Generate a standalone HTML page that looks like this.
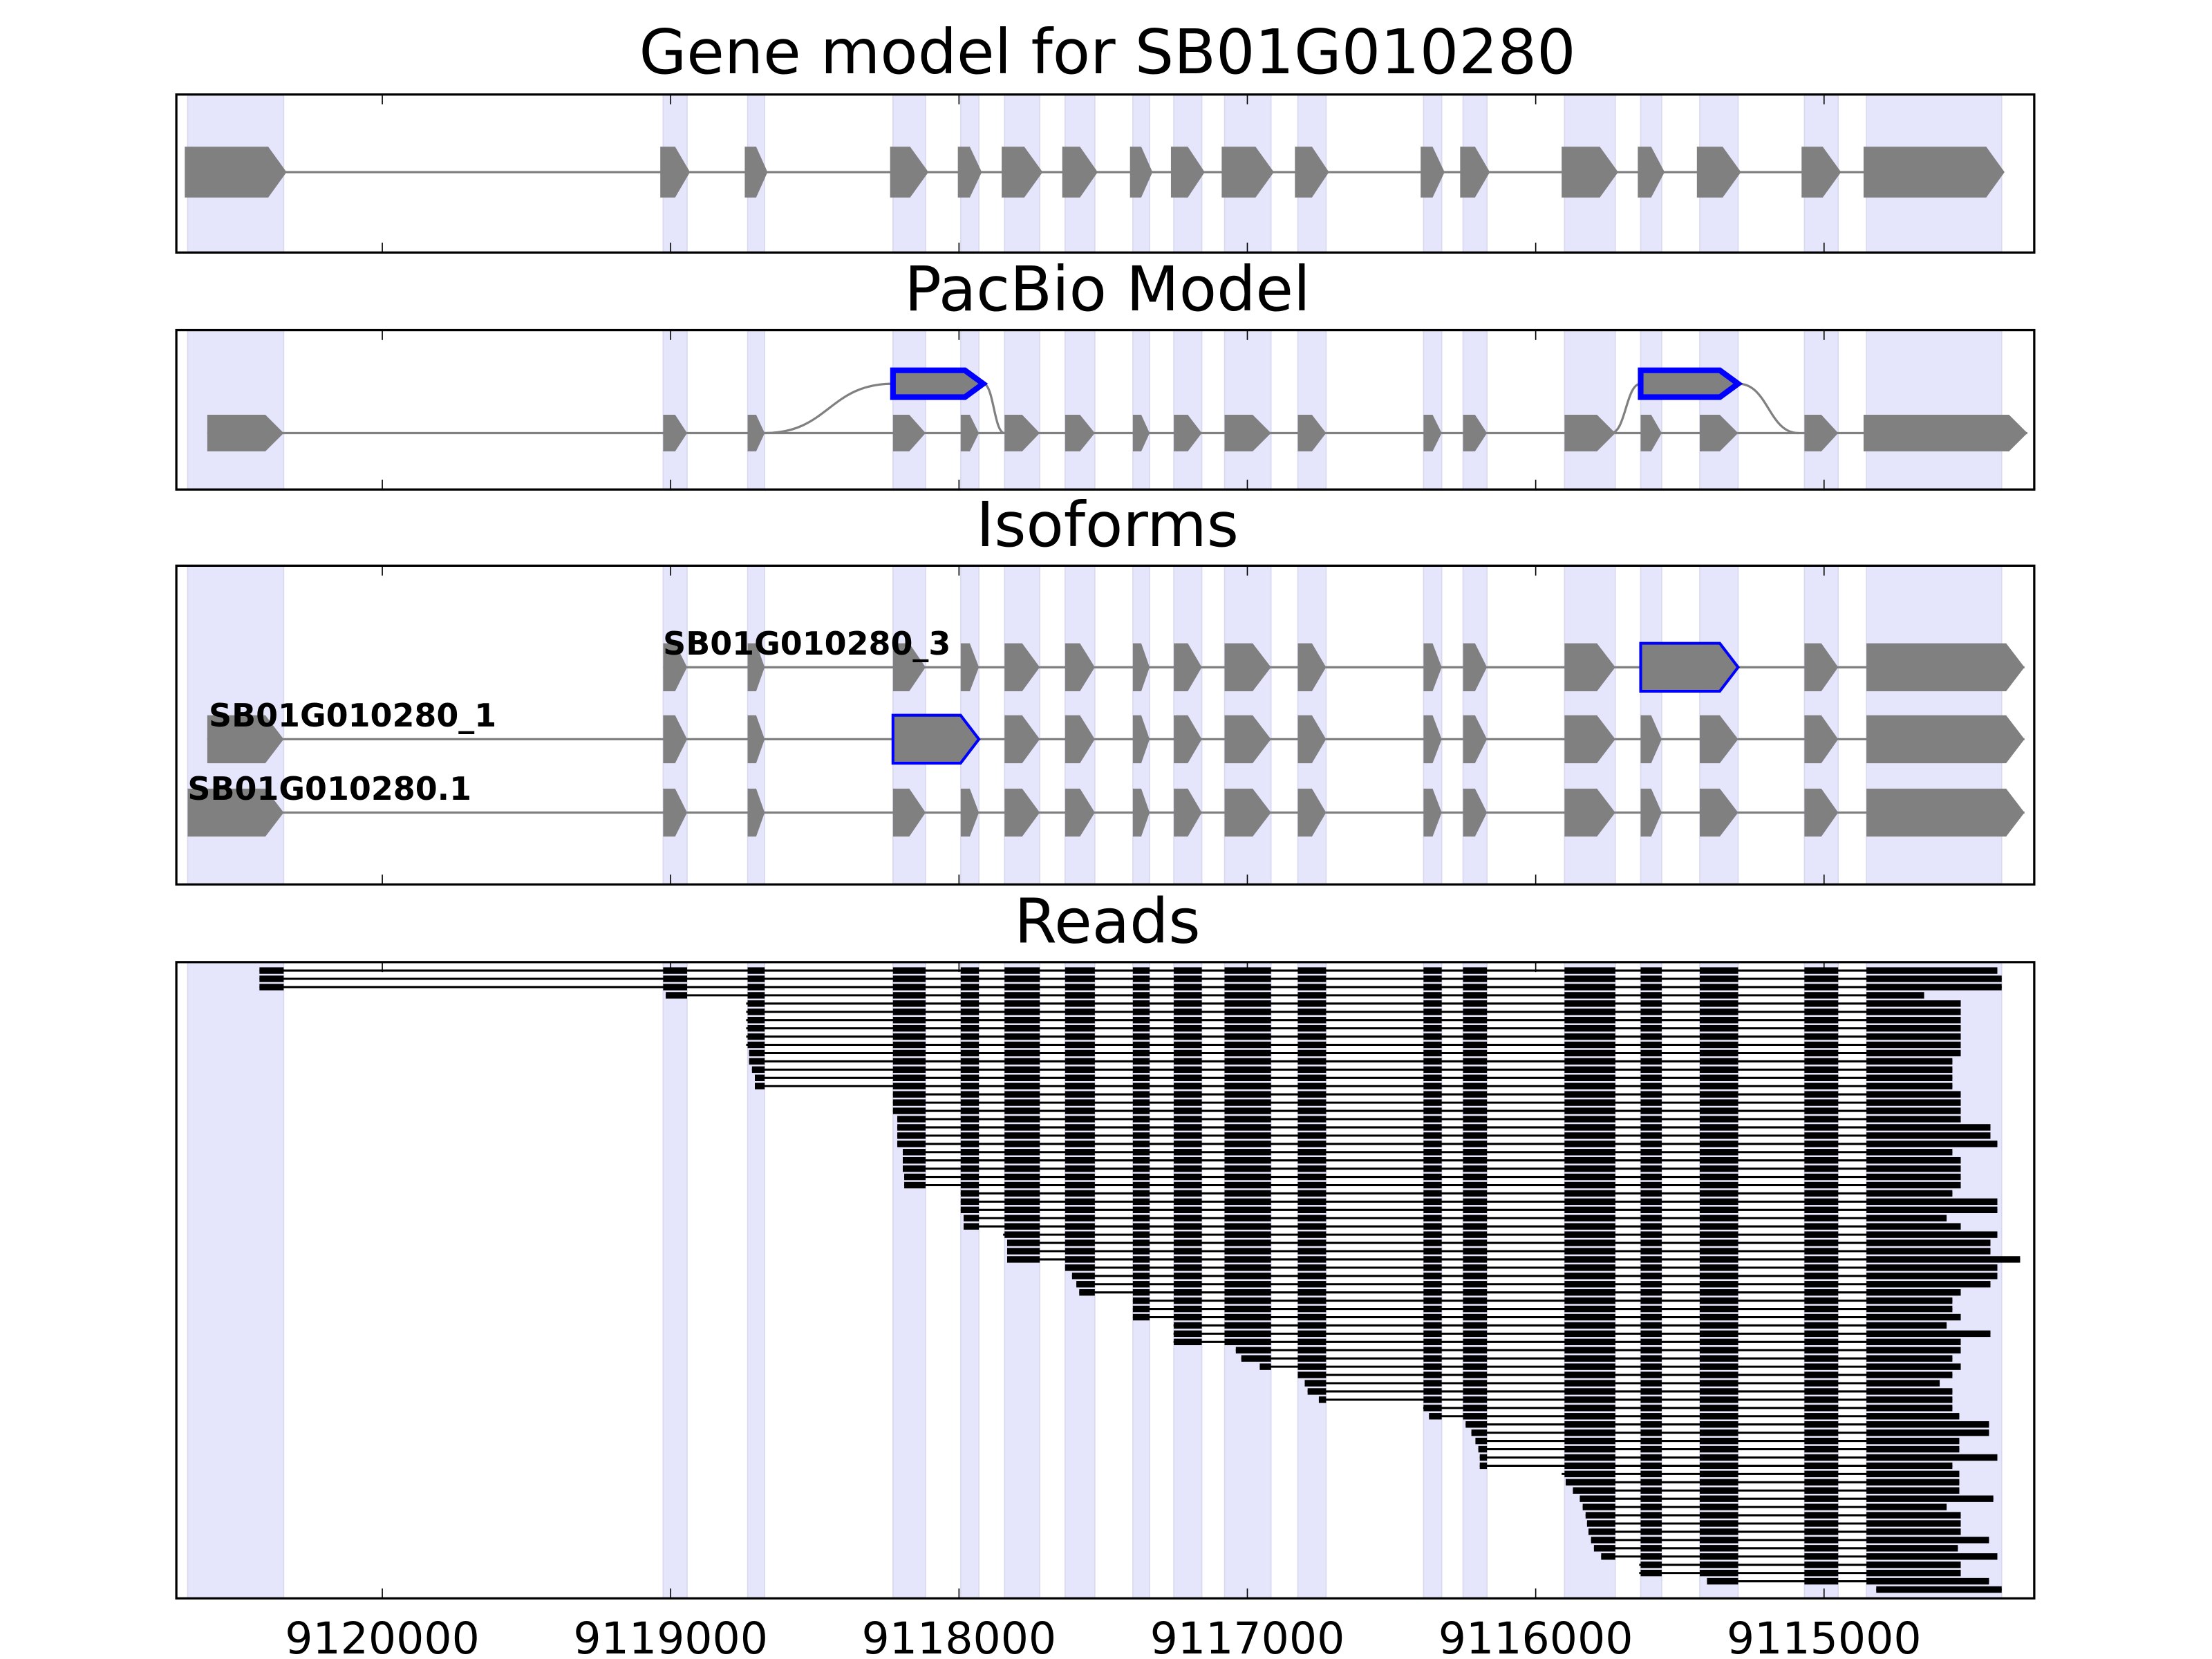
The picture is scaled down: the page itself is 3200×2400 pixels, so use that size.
<!DOCTYPE html>
<html><head><meta charset="utf-8"><style>
html,body{margin:0;padding:0;background:#fff;}
svg{display:block;}
text{font-family:"DejaVu Sans","Liberation Sans",sans-serif;}
</style></head><body>
<svg id="chart" xmlns="http://www.w3.org/2000/svg" width="3200" height="2400" viewBox="0 0 1568 1176" preserveAspectRatio="none"></svg>
<script>
// ---- data ----
const exonStarts = [9120675,9119026,9118733,9118229,9117994,9117842,9117632,9117397,9117255,9117079,9116825,9116389,9116252,9115900,9115636,9115431,9115068,9114853];
const exonEnds   = [9120342,9118943,9118674,9118116,9117931,9117720,9117529,9117339,9117158,9116918,9116727,9116326,9116169,9115724,9115563,9115298,9114951,9114384];
const tickValues = [9120000,9119000,9118000,9117000,9116000,9115000];
const tickLabels = ["9120000","9119000","9118000","9117000","9116000","9115000"];
const readStarts = [9120426,9120426,9120426,9119017,
 9118738,9118738,9118738,9118738,9118738,9118738,9118728,9118728,9118718,9118708,9118708,
 9118229,9118229,9118229,9118214,9118214,9118214,9118214,9118195,9118195,9118195,9118190,9118190,
 9117994,9117994,9117994,9117984,9117984,
 9117847,9117833,9117833,9117833,
 9117632,9117608,9117593,9117583,
 9117397,9117397,9117397,
 9117256,9117256,9117256,
 9117040,9117021,9116957,
 9116825,9116801,9116791,9116752,
 9116390,9116370,
 9116243,9116223,9116209,9116199,9116194,9116194,
 9115910,9115896,9115871,9115847,9115837,9115827,9115822,9115817,9115808,9115798,9115773,
 9115641,9115641,9115406,9114819];
const readEnds = [9114399,9114384,9114384,9114653,
 9114526,9114526,9114526,9114526,9114526,9114526,9114526,
 9114555,9114555,9114555,9114555,
 9114526,9114526,9114526,9114526,
 9114423,9114423,9114399,9114555,
 9114526,9114526,9114526,9114526,
 9114555,9114399,9114399,9114575,9114526,9114399,9114423,9114423,9114320,9114399,9114399,9114423,9114526,
 9114555,9114555,9114526,9114575,9114423,9114526,9114526,9114555,9114526,9114555,9114599,9114555,9114555,
 9114555,9114531,9114428,9114428,9114531,9114531,9114399,9114555,9114531,9114531,9114531,9114413,9114575,
 9114526,9114526,9114526,9114428,9114536,9114399,9114526,9114526,9114428,9114384];
// ---- scales ----
const X0 = 271, PXPERBP = 0.2044, GREF = 9120000;
function xs(g){ return X0 + (GREF - g) * PXPERBP; }
const panels = [
 {name:"gene-model-panel", title:"Gene model for SB01G010280", y0:67, y1:179, ty:52},
 {name:"pacbio-model-panel", title:"PacBio Model", y0:234, y1:347, ty:220},
 {name:"isoforms-panel", title:"Isoforms", y0:401, y1:627, ty:387},
 {name:"reads-panel", title:"Reads", y0:682, y1:1133, ty:668}
];
const svg = document.getElementById('chart');
const NS = "http://www.w3.org/2000/svg";
function mk(tag, attrs, parent){
  const e = document.createElementNS(NS, tag);
  for (const k in attrs) e.setAttribute(k, attrs[k]);
  (parent||svg).appendChild(e); return e;
}
function arrow(parent, g0, g1, yc, h, fill, stroke, sw){
  const x0 = xs(g0), x1 = xs(g1), w = x1 - x0;
  const t = Math.min(13, w*0.5);
  return mk('polygon', {points:`${x0},${yc-h/2} ${x1-t},${yc-h/2} ${x1},${yc} ${x1-t},${yc+h/2} ${x0},${yc+h/2}`, fill:fill, stroke:stroke||'none', 'stroke-width':sw||0}, parent);
}
function gline(parent, g0, g1, y){
  return mk('line', {x1:xs(g0), x2:xs(g1), y1:y, y2:y, stroke:'#808080', 'stroke-width':1.6}, parent);
}
panels.forEach(function(p, pi){
  const g = mk('g', {});
  
  
  const t = mk('text', {x:785, y:p.ty, 'font-size':43.5, 'text-anchor':'middle', fill:'#000'}, g);
  t.textContent = p.title;
  
  
  const clipId = 'clip'+pi;
  const cp = mk('clipPath', {id:clipId}, g);
  mk('rect', {x:125, y:p.y0, width:1317, height:p.y1-p.y0}, cp);
  const inner = mk('g', {'clip-path':`url(#${clipId})`}, g);
  for (let i=0;i<exonStarts.length;i++){
    const r = mk('rect', {x:xs(exonStarts[i]), y:p.y0, width:xs(exonEnds[i])-xs(exonStarts[i]), height:p.y1-p.y0, fill:'#e5e5fb', stroke:'#d8d8f0', 'stroke-width':0.8}, inner);
    
    
  }
  p.inner = inner; p.g = g;
});
// gene model
(function(){
  const p = panels[0], yc = 122;
  gline(p.inner, exonStarts[0], exonEnds[exonEnds.length-1], yc);
  for (let i=0;i<exonStarts.length;i++){
    const a = arrow(p.inner, exonStarts[i]+10, exonEnds[i]-10, yc, 36, '#808080');
    
    
  }
})();
// pacbio
(function(){
  const p = panels[1], yc = 307, yh = 272;
  gline(p.inner, 9120607, 9114295, yc);
  const n = exonStarts.length;
  for (let i=0;i<n;i++){
    let s = exonStarts[i], e = exonEnds[i];
    if (i===0) s = 9120607;
    if (i===n-1){ s = exonStarts[i]+10; e = 9114295; }
    const a = arrow(p.inner, s, e, yc, 26, '#808080');
    
    
  }
  const curves = [
    [exonEnds[2], yc, exonStarts[3], yh],
    [exonEnds[4]-15, yh, exonStarts[5], yc],
    [exonEnds[13]+15, yc, exonStarts[14], yh],
    [exonEnds[15], yh, exonStarts[16]+20, yc]
  ];
  curves.forEach(function(c){
    const x0 = xs(c[0]), x1 = xs(c[2]), mx = (x0+x1)/2;
    const pa = mk('path', {d:`M${x0},${c[1]} C${mx},${c[1]} ${mx},${c[3]} ${x1},${c[3]}`, fill:'none', stroke:'#808080', 'stroke-width':1.6}, p.inner);
    
    
  });
  [[exonStarts[3], exonEnds[4]-15],[exonStarts[14], exonEnds[15]]].forEach(function(b){
    const a = arrow(p.inner, b[0], b[1], yh, 19, '#808080', '#0000ff', 4);
    
    
  });
})();
// isoforms
(function(){
  const p = panels[2], n = exonStarts.length;
  const rows = [
    {y:473, label:'SB01G010280_3', lx:470, first:1, firstStart:null, merge:[14,15]},
    {y:524, label:'SB01G010280_1', lx:148, first:0, firstStart:9120607, merge:[3,4]},
    {y:576, label:'SB01G010280.1', lx:133, first:0, firstStart:null, merge:null}
  ];
  rows.forEach(function(r){
    const startG = r.firstStart || exonStarts[r.first];
    gline(p.inner, startG, 9114305, r.y);
    for (let i=r.first;i<n;i++){
      let s = exonStarts[i], e = exonEnds[i];
      if (i===r.first && r.firstStart) s = r.firstStart;
      if (i===n-1) e = 9114305;
      let blue = false;
      if (r.merge && i===r.merge[1]) continue;
      if (r.merge && i===r.merge[0]){ e = exonEnds[r.merge[1]]; blue = true; }
      const a = arrow(p.inner, s, e, r.y, 34, '#808080', blue?'#0000ff':null, blue?2:0);
      
      
    }
    const t = mk('text', {x:r.lx, y:r.y-9, 'font-size':22.5, 'font-weight':'bold', fill:'#000'}, p.inner);
    t.textContent = r.label;
    
    
  });
})();
// reads
(function(){
  const p = panels[3], y0 = 688, step = 5.85;
  for (let k=0;k<readStarts.length;k++){
    const y = y0 + k*step, s = readStarts[k], e = readEnds[k];
    const g = mk('g', {}, p.inner);
    
    
    mk('line', {x1:xs(s), x2:xs(e), y1:y, y2:y, stroke:'#000', 'stroke-width':1.5}, g);
    for (let i=0;i<exonStarts.length;i++){
      let a = Math.min(s, exonStarts[i]), b = Math.max(e, exonEnds[i]);
      if (i===exonStarts.length-1) b = e;
      if (a <= b) continue;
      mk('rect', {x:xs(a), y:y-2.3, width:xs(b)-xs(a), height:4.6, fill:'#000'}, g);
    }
  }
})();
// frames + ticks
panels.forEach(function(p){
  const fr = mk('rect', {x:125, y:p.y0, width:1317, height:p.y1-p.y0, fill:'none', stroke:'#000', 'stroke-width':1.6}, p.g);
  
  
  tickValues.forEach(function(v){
    const x = xs(v);
    mk('line', {x1:x, x2:x, y1:p.y0, y2:p.y0+7, stroke:'#000', 'stroke-width':0.8}, p.g);
    mk('line', {x1:x, x2:x, y1:p.y1, y2:p.y1-7, stroke:'#000', 'stroke-width':0.8}, p.g);
  });
});
tickValues.forEach(function(v, i){
  const t = mk('text', {x:xs(v), y:1172, 'font-size':31, 'text-anchor':'middle', fill:'#000'});
  t.textContent = tickLabels[i];
  
  
});
</script>
</body></html>
